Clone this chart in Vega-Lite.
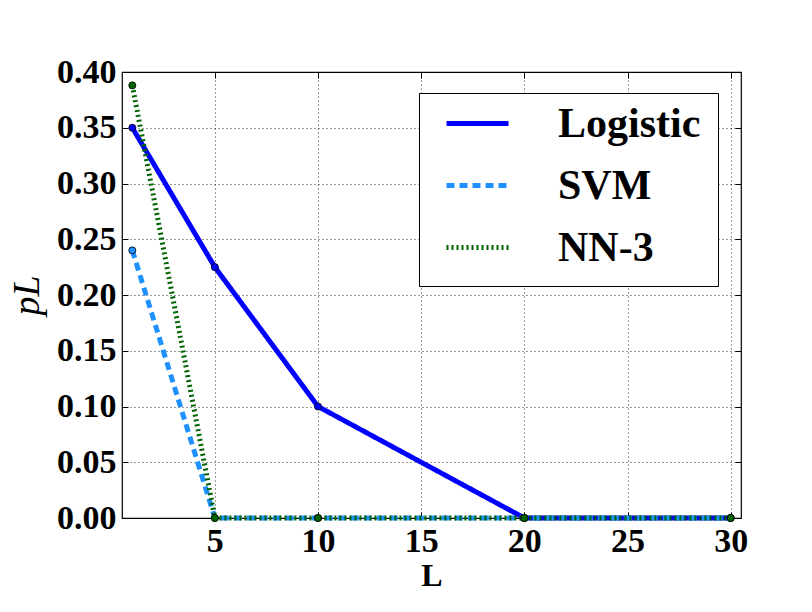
{
  "$schema": "https://vega.github.io/schema/vega-lite/v6.json",
  "width": 619,
  "height": 446,
  "autosize": "none",
  "padding": {"left": 122, "top": 72, "right": 71, "bottom": 94},
  "background": "white",
  "config": {
    "view": {"stroke": "black", "strokeWidth": 1.2},
    "font": "Liberation Serif",
    "axis": {
      "labelFont": "Liberation Serif",
      "labelFontWeight": "bold",
      "labelFontSize": 34,
      "labelColor": "black",
      "titleFont": "Liberation Serif",
      "titleColor": "black",
      "domain": false,
      "tickColor": "black",
      "tickSize": -6,
      "labelPadding": 12,
      "gridColor": "black",
      "gridDash": [1, 3],
      "gridOpacity": 1,
      "gridWidth": 0.8
    }
  },
  "data": {
    "values": [
      {"model": "Logistic", "L": 1, "p": 0.35},
      {"model": "Logistic", "L": 5, "p": 0.225},
      {"model": "Logistic", "L": 10, "p": 0.1},
      {"model": "Logistic", "L": 20, "p": 0.0},
      {"model": "Logistic", "L": 30, "p": 0.0},
      {"model": "SVM", "L": 1, "p": 0.24},
      {"model": "SVM", "L": 5, "p": 0.0},
      {"model": "SVM", "L": 10, "p": 0.0},
      {"model": "SVM", "L": 20, "p": 0.0},
      {"model": "SVM", "L": 30, "p": 0.0},
      {"model": "NN-3", "L": 1, "p": 0.388},
      {"model": "NN-3", "L": 5, "p": 0.0},
      {"model": "NN-3", "L": 10, "p": 0.0},
      {"model": "NN-3", "L": 20, "p": 0.0},
      {"model": "NN-3", "L": 30, "p": 0.0}
    ]
  },
  "resolve": {"axis": {"x": "independent", "y": "independent"}},
  "layer": [
    {
      "mark": {"type": "line", "clip": false},
      "encoding": {
        "x": {
          "field": "L",
          "type": "quantitative",
          "scale": {"domain": [0.5, 30.5], "nice": false, "zero": false},
          "axis": {
            "values": [5, 10, 15, 20, 25, 30],
            "title": "L",
            "titleFontSize": 32,
            "titleFontWeight": "bold",
            "titlePadding": 2
          }
        },
        "y": {
          "field": "p",
          "type": "quantitative",
          "scale": {"domain": [0, 0.4], "nice": false},
          "axis": {
            "values": [0, 0.05, 0.1, 0.15, 0.2, 0.25, 0.3, 0.35, 0.4],
            "format": ".2f",
            "title": "pL",
            "titleFontSize": 38,
            "titleFontStyle": "italic",
            "titleFontWeight": "normal",
            "titlePadding": 10
          }
        },
        "color": {
          "field": "model",
          "type": "nominal",
          "scale": {"domain": ["Logistic", "SVM", "NN-3"], "range": ["#0000ff", "#1e90ff", "#006400"]},
          "legend": {
            "title": null,
            "orient": "none",
            "legendX": 297,
            "legendY": 21,
            "symbolType": "stroke",
            "symbolSize": 3844,
            "symbolStrokeWidth": 5,
            "symbolOffset": 8,
            "clipHeight": 27,
            "labelFont": "Liberation Serif",
            "labelFontWeight": "bold",
            "labelFontSize": 42,
            "labelColor": "black",
            "labelOffset": 47,
            "rowPadding": 19,
            "padding": 17,
            "strokeColor": "black",
            "fillColor": "white"
          }
        },
        "strokeDash": {
          "field": "model",
          "type": "nominal",
          "scale": {"domain": ["Logistic", "SVM", "NN-3"], "range": [[1, 0], [8, 5], [2, 3]]},
          "legend": {"title": null}
        },
        "strokeWidth": {
          "field": "model",
          "type": "nominal",
          "scale": {"domain": ["Logistic", "SVM", "NN-3"], "range": [5, 5, 2.5]},
          "legend": null
        }
      }
    },
    {
      "mark": {"type": "point", "filled": true, "size": 50, "stroke": "black", "strokeWidth": 0.8, "opacity": 1, "clip": false},
      "encoding": {
        "x": {
          "field": "L",
          "type": "quantitative",
          "axis": {"orient": "top", "values": [5, 10, 15, 20, 25, 30], "labels": false, "grid": false, "title": null}
        },
        "y": {
          "field": "p",
          "type": "quantitative",
          "axis": {"orient": "right", "values": [0, 0.05, 0.1, 0.15, 0.2, 0.25, 0.3, 0.35, 0.4], "labels": false, "grid": false, "title": null}
        },
        "color": {"field": "model", "type": "nominal"}
      }
    }
  ]
}
